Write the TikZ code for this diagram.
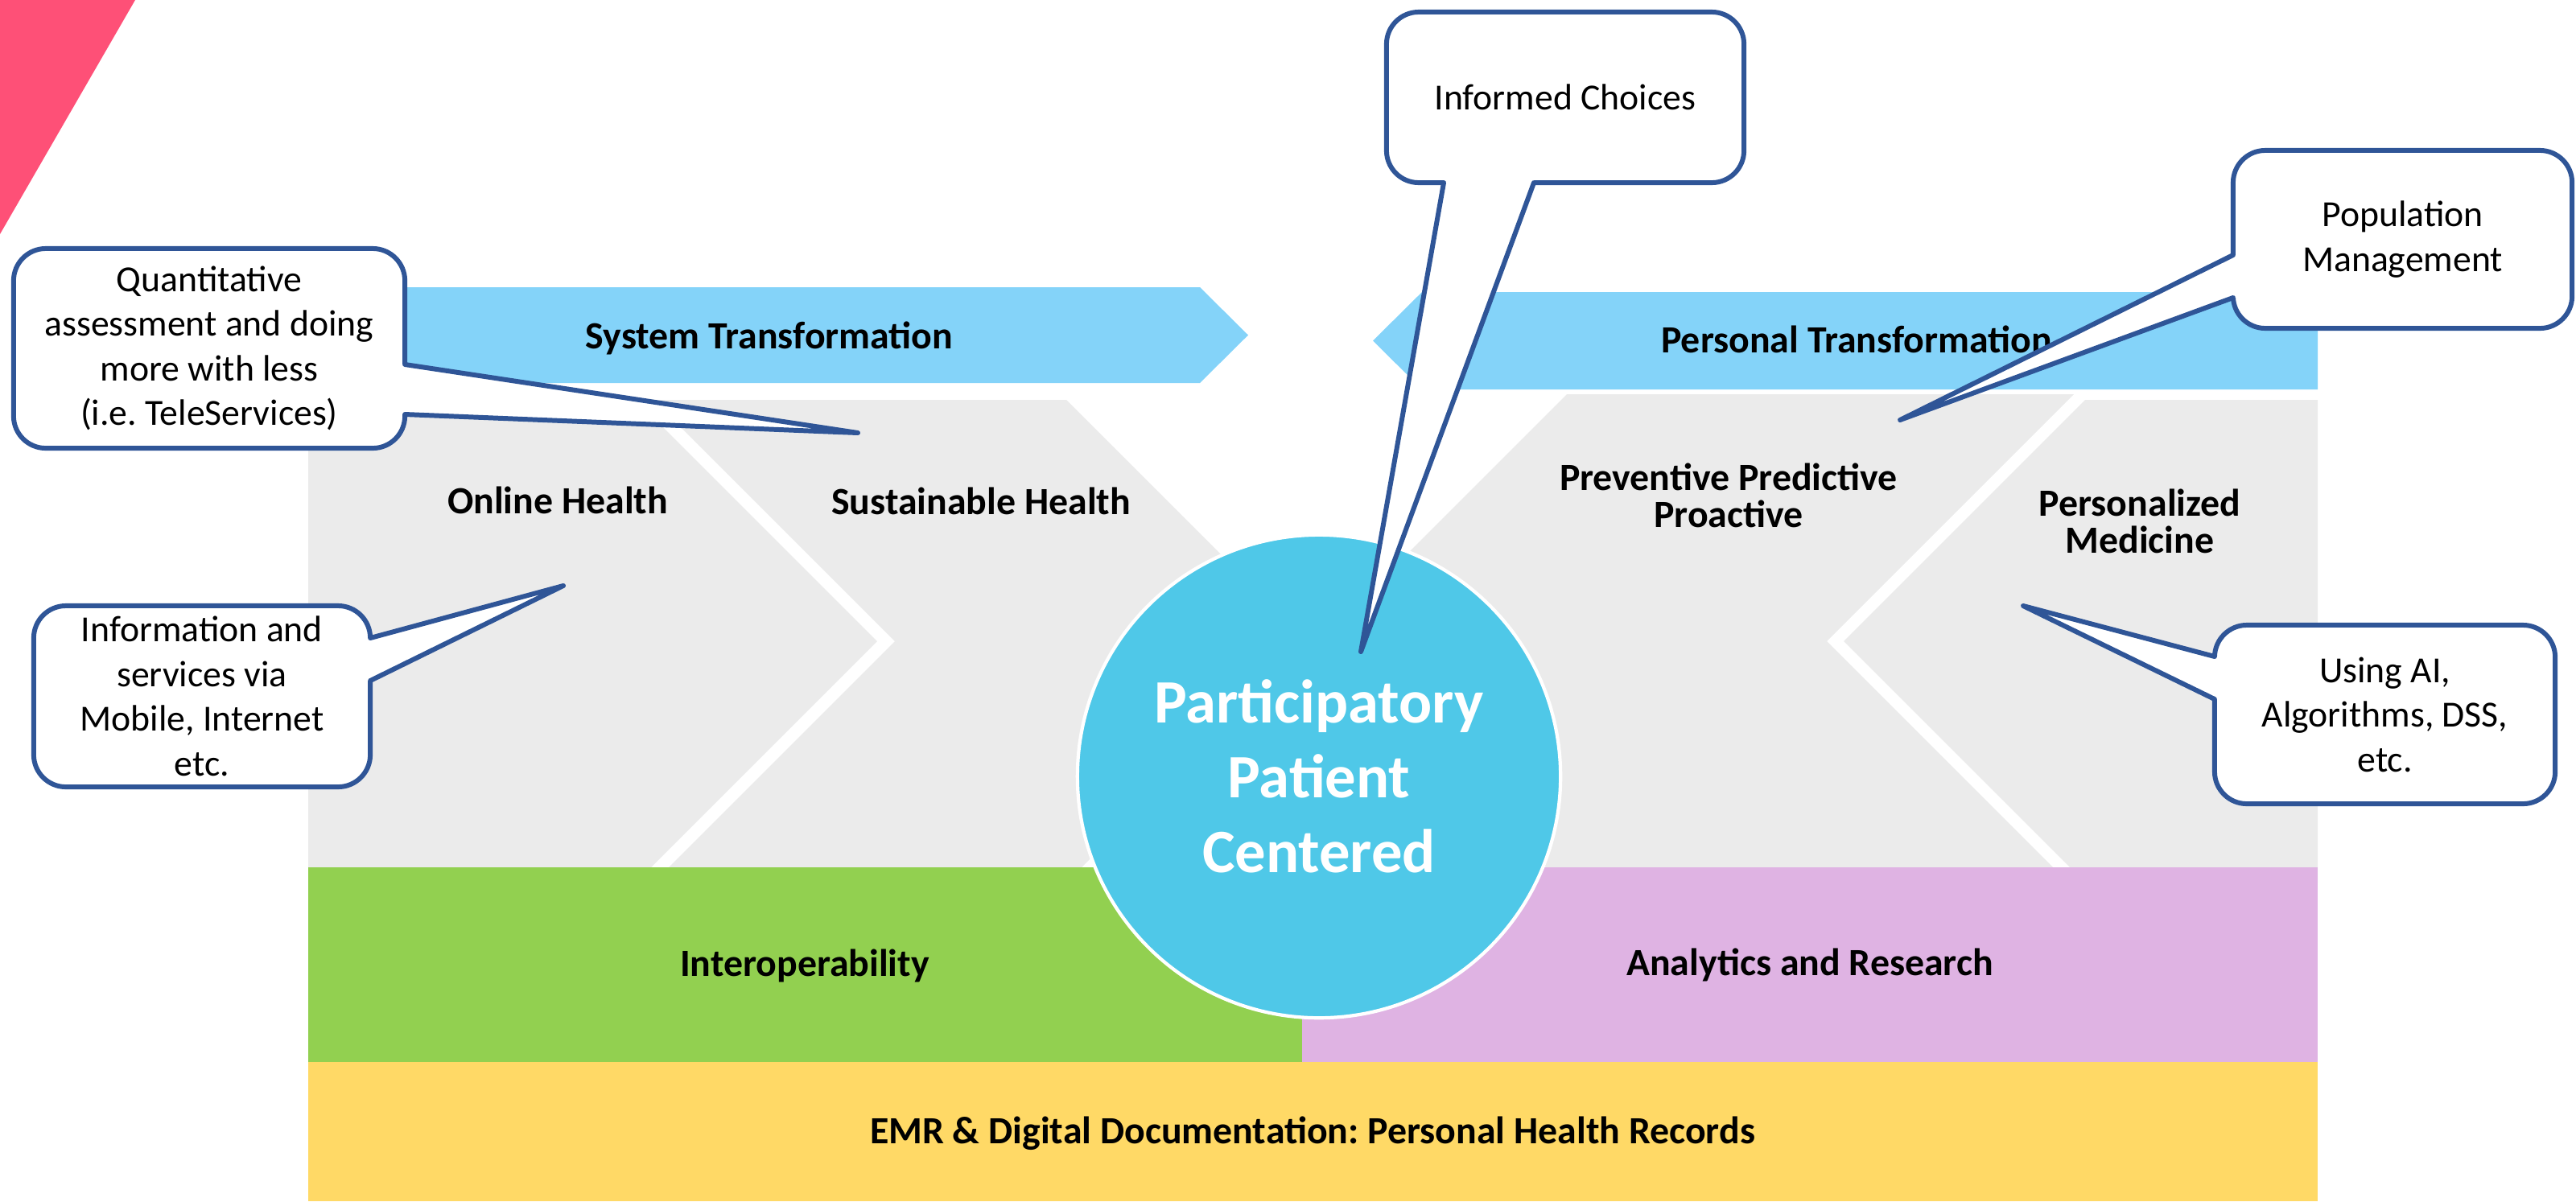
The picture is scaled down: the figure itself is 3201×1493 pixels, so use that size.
\documentclass[tikz,border=0pt]{standalone}
\usepackage{fontspec}
\setmainfont{Carlito}
\usetikzlibrary{calc,positioning}
\frenchspacing

\definecolor{arrowblue}{HTML}{84D3F9}
\definecolor{chevgray}{HTML}{EBEBEB}
\definecolor{circblue}{HTML}{4FC8E8}
\definecolor{calloutblue}{HTML}{2F5597}
\definecolor{interopgreen}{HTML}{92D050}
\definecolor{analyticspurple}{HTML}{DFB3E3}
\definecolor{emryellow}{HTML}{FFD966}
\definecolor{cornerpink}{HTML}{FE5077}

\begin{document}
\begin{tikzpicture}[x=0.01cm, y=-0.01cm, line cap=round, line join=round,
	bandtext/.style={font=\fontsize{13.6}{13.2}\selectfont\bfseries, align=center, inner sep=0pt},
	bubble/.style={draw=calloutblue, line width=1.7pt, fill=white, rounded corners=0.4cm,
		align=center, inner sep=0pt, outer sep=0pt, font=\fontsize{13}{15.8}\selectfont},
	bubbleline/.style={draw=calloutblue, line width=1.7pt, line join=round}]
	
	\useasboundingbox (0,0) rectangle (3201,1493);
	
	% --- 1. CORNER ---
	\fill[cornerpink] (0,0) -- (168,0) -- (0,291) -- cycle;
	
	% --- 2. TRANSFORMATION ARROWS ---
	\fill[arrowblue] (383,357) -- (1491,357) -- (1551,416.5) -- (1491,476) -- (383,476) -- cycle;
	\fill[arrowblue] (1706,423.5) -- (1767,363) -- (2880,363) -- (2880,484) -- (1767,484) -- cycle;
	\node[bandtext, anchor=base] (sys) at (956,433) {System Transformation};
	\node[bandtext, anchor=base] (pers) at (2307,438) {Personal Transformation};
	
	% --- 3. CHEVRONS ---
	\fill[chevgray] (383,497) -- (790,497) -- (1090,797) -- (790,1097) -- (383,1097) -- cycle;
	\fill[chevgray] (812,497) -- (1325,497) -- (1625,797) -- (1325,1097) -- (812,1097) -- (1112,797) -- cycle;
	\fill[chevgray] (1640,797) -- (1947,490) -- (2577,490) -- (2270,797) -- (2577,1104) -- (1947,1104) -- cycle;
	\fill[chevgray] (2291,797) -- (2591,497) -- (2880,497) -- (2880,1097) -- (2591,1097) -- cycle;
	\node[bandtext, anchor=base] (online) at (693,638) {Online Health};
	\node[bandtext, anchor=base] (sust) at (1219,639) {Sustainable Health};
	\node[bandtext] (prev) at (2148,616) {Preventive Predictive\\Proactive};
	\node[bandtext] (persmed) at (2659,648) {Personalized\\Medicine};
	
	% --- 4. BOTTOM BLOCKS ---
	\fill[interopgreen] (383,1078) rectangle (1618,1320);
	\fill[analyticspurple] (1618,1078) rectangle (2880,1320);
	\fill[emryellow] (383,1320) rectangle (2880,1493);
	\node[bandtext, anchor=base] (interop) at (1000,1213) {Interoperability};
	\node[bandtext, anchor=base] (analytics) at (2249,1212) {Analytics and Research};
	\node[bandtext, anchor=base] (emr) at (1631,1421) {EMR \& Digital Documentation: Personal Health Records};
	
	% --- 5. CENTRE CIRCLE ---
	\node[circle, fill=circblue, draw=white, line width=1.2pt, minimum size=6cm, inner sep=0pt,
		text=white, align=center, font=\fontsize{21.8}{26.4}\selectfont\bfseries]
		(pp) at (1639,965) {Participatory\\Patient\\Centered};
	
	% --- 6. CALLOUTS ---
	\node[bubble, minimum width=4.86cm, minimum height=2.48cm] (qa) at (260,433)
		{Quantitative\\assessment and doing\\more with less\\(i.e. TeleServices)};
	\coordinate (qaTip) at (1066,538);
	\fill[white] ($(qa.east)+(-8,20)$) -- ($(qa.east)+(0,20)$) -- (qaTip) -- ($(qa.east)+(0,82)$) -- ($(qa.east)+(-8,82)$) -- cycle;
	\draw[bubbleline] ($(qa.east)+(0,20)$) -- (qaTip) -- ($(qa.east)+(0,82)$);
	
	\node[bubble, minimum width=4.18cm, minimum height=2.25cm] (info) at (251,865.5)
		{Information and\\services via\\Mobile, Internet\\etc.};
	\coordinate (infoTip) at (700,728);
	\fill[white] ($(info.east)+(-8,-72.5)$) -- ($(info.east)+(0,-72.5)$) -- (infoTip) -- ($(info.east)+(0,-19.5)$) -- ($(info.east)+(-8,-19.5)$) -- cycle;
	\draw[bubbleline] ($(info.east)+(0,-72.5)$) -- (infoTip) -- ($(info.east)+(0,-19.5)$);
	
	\node[bubble, minimum width=4.44cm, minimum height=2.12cm] (ic) at (1945,121) {Informed Choices};
	\coordinate (icTip) at (1691,810);
	\fill[white] ($(ic.south)+(-151,-8)$) -- ($(ic.south)+(-151,0)$) -- (icTip) -- ($(ic.south)+(-39,0)$) -- ($(ic.south)+(-39,-8)$) -- cycle;
	\draw[bubbleline] ($(ic.south)+(-151,0)$) -- (icTip) -- ($(ic.south)+(-39,0)$);
	
	\node[bubble, minimum width=4.21cm, minimum height=2.21cm] (pm) at (2985.5,297.5) {Population\\Management};
	\coordinate (pmTip) at (2361,522);
	\fill[white] ($(pm.west)+(8,19.5)$) -- ($(pm.west)+(0,19.5)$) -- (pmTip) -- ($(pm.west)+(0,72.5)$) -- ($(pm.west)+(8,72.5)$) -- cycle;
	\draw[bubbleline] ($(pm.west)+(0,19.5)$) -- (pmTip) -- ($(pm.west)+(0,72.5)$);
	
	\node[bubble, minimum width=4.23cm, minimum height=2.22cm] (ai) at (2963.5,888) {Using AI,\\Algorithms, DSS,\\etc.};
	\coordinate (aiTip) at (2514,753);
	\fill[white] ($(ai.west)+(8,-72)$) -- ($(ai.west)+(0,-72)$) -- (aiTip) -- ($(ai.west)+(0,-19)$) -- ($(ai.west)+(8,-19)$) -- cycle;
	\draw[bubbleline] ($(ai.west)+(0,-72)$) -- (aiTip) -- ($(ai.west)+(0,-19)$);
	
\end{tikzpicture}
\end{document}
